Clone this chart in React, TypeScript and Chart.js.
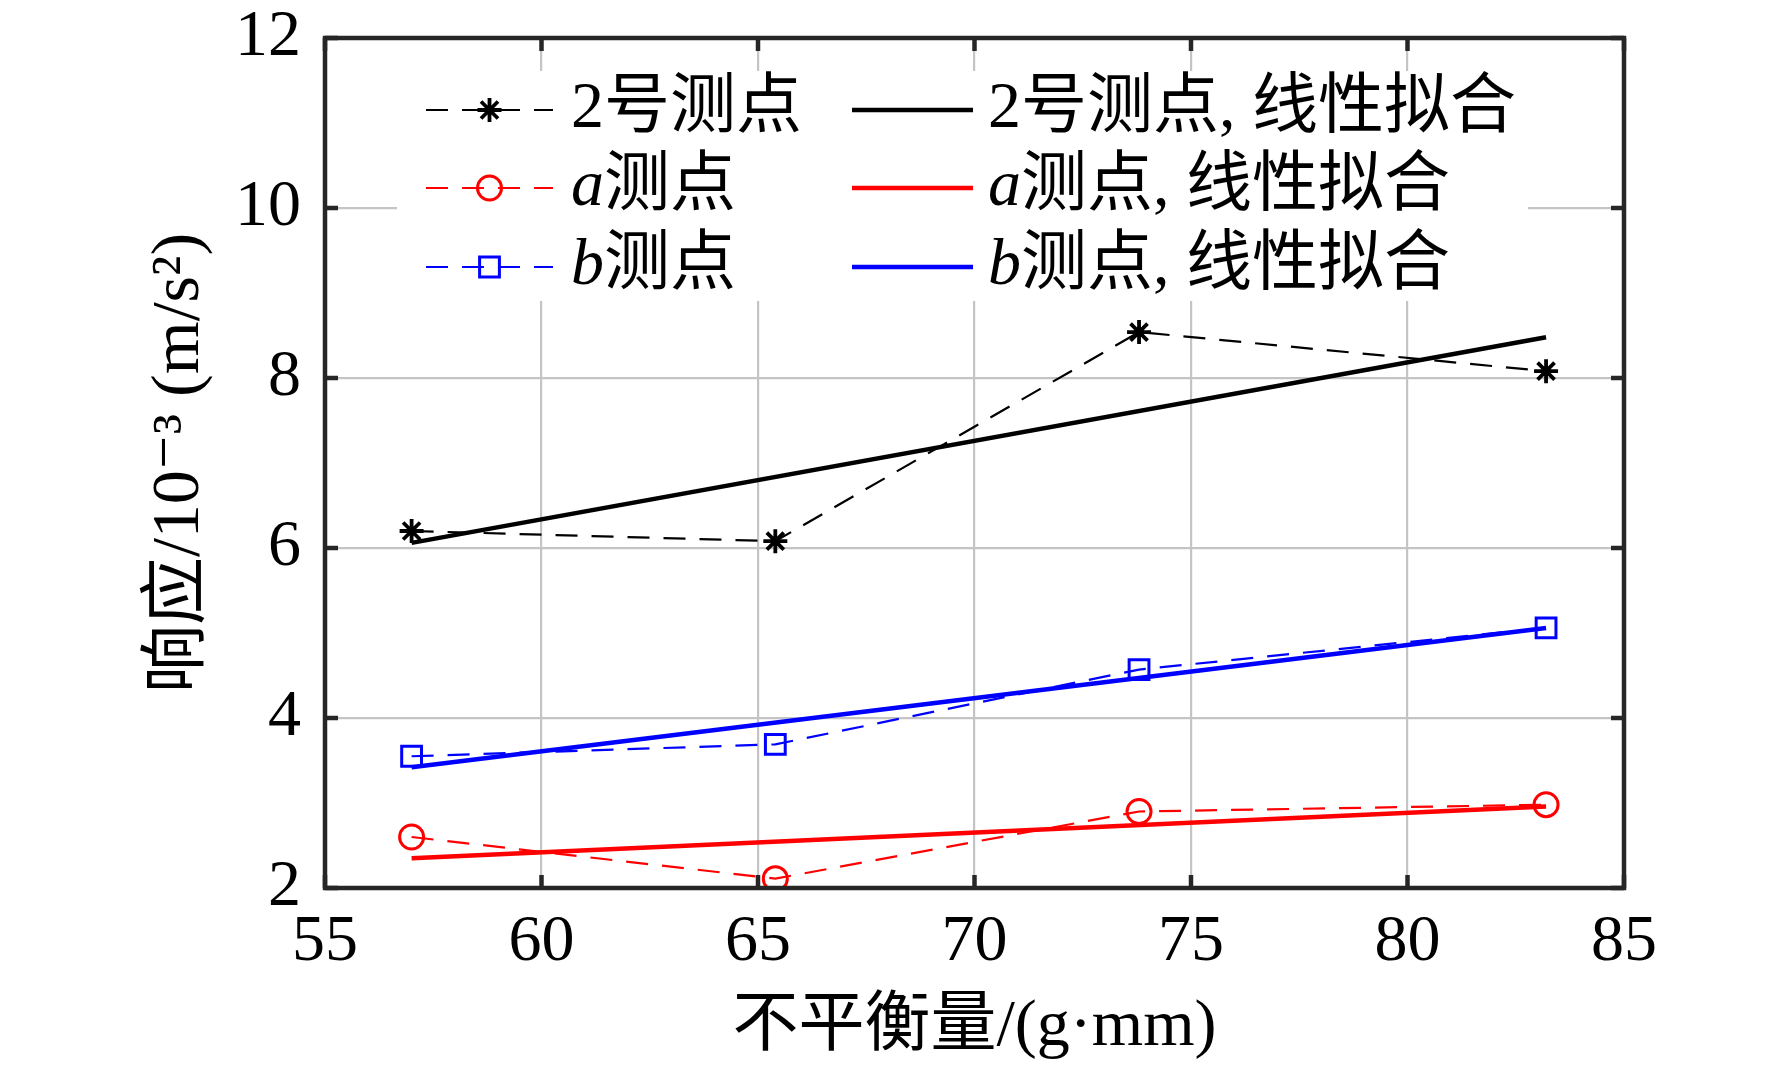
import { useEffect, useRef } from 'react';
import { Chart, registerables } from 'chart.js';
import { drawPoint } from 'chart.js/helpers';

Chart.register(...registerables);

// measured x positions (unbalance, g·mm)
const xPoints = [57, 65.4, 73.8, 83.2];
const fitX = [57, 83.2];

// measured responses (10^-3 m/s^2)
const p2Vals = [6.2, 6.08, 8.54, 8.08];
const aVals = [2.6, 2.11, 2.9, 2.98];
const bVals = [3.55, 3.69, 4.57, 5.06];

// linear-fit end points
const p2Fit = [6.06, 8.48];
const aFit = [2.35, 2.96];
const bFit = [3.42, 5.06];

const seriesNames = ['2号测点', 'a测点', 'b测点'];
const italicLead = [false, true, true];
const fitSuffix = ', 线性拟合';

const xTicks = [55, 60, 65, 70, 75, 80, 85];
const yTicks = [2, 4, 6, 8, 10, 12];

const FONT = "'Liberation Serif', 'Times New Roman', 'Noto Sans CJK SC', 'DejaVu Serif', serif";
const AXIS = '#262626';
const GRID = '#c4c4c4';
const BLACK = '#000000';
const RED = '#ff0000';
const BLUE = '#0000ff';

const zip = (xs: number[], ys: number[]) => xs.map((x, i) => ({ x, y: ys[i] }));

// legend drawn inside the axes, two columns, white box
const legendPlugin = {
  id: 'insideLegend',
  afterDraw(chart: any) {
    const { ctx, chartArea } = chart;
    const L = chartArea.left, T = chartArea.top;
    ctx.save();
    ctx.fillStyle = '#fff';
    ctx.fillRect(L + 72, T + 33, 1131, 230);
    const rows = [72, 150, 229];
    const cols = [{ x0: 101, x1: 228, tx: 246 }, { x0: 527, x1: 648, tx: 663 }];
    chart.data.datasets.forEach((ds: any, i: number) => {
      const col = cols[Math.floor(i / 3)];
      const y = T + rows[i % 3];
      ctx.strokeStyle = ds.borderColor;
      ctx.lineWidth = ds.borderWidth;
      ctx.setLineDash(ds.borderDash || []);
      ctx.beginPath();
      ctx.moveTo(L + col.x0, y);
      ctx.lineTo(L + col.x1, y);
      ctx.stroke();
      ctx.setLineDash([]);
      if (ds.pointRadius > 0) {
        ctx.lineWidth = ds.pointBorderWidth;
        ctx.strokeStyle = ds.pointBorderColor;
        ctx.fillStyle = 'rgba(0,0,0,0)';
        drawPoint(ctx, { pointStyle: ds.pointStyle, radius: ds.pointRadius, borderWidth: ds.pointBorderWidth, rotation: 0 } as any, L + (col.x0 + col.x1) / 2, y);
      }
      const k = i % 3;
      const label: string = ds.label;
      const parts = italicLead[k]
        ? [{ t: label.slice(0, 1), it: true }, { t: label.slice(1), it: false }]
        : [{ t: label, it: false }];
      let x = L + col.tx;
      ctx.fillStyle = '#000';
      ctx.textBaseline = 'middle';
      ctx.textAlign = 'left';
      for (const p of parts) {
        ctx.font = `${p.it ? 'italic ' : ''}66px ${FONT}`;
        ctx.fillText(p.t, x, y);
        x += ctx.measureText(p.t).width;
      }
    });
    ctx.restore();
  },
};

// axes box with inward ticks
const boxPlugin = {
  id: 'axesBox',
  afterDraw(chart: any) {
    const { ctx, chartArea: { left, right, top, bottom }, scales } = chart;
    ctx.save();
    ctx.strokeStyle = AXIS;
    ctx.lineWidth = 4.5;
    const seg = (x0: number, y0: number, x1: number, y1: number) => {
      ctx.beginPath(); ctx.moveTo(x0, y0); ctx.lineTo(x1, y1); ctx.stroke();
    };
    xTicks.forEach(v => {
      const px = scales.x.getPixelForValue(v);
      seg(px, bottom, px, bottom - 13);
      seg(px, top, px, top + 13);
    });
    yTicks.forEach(v => {
      const py = scales.y.getPixelForValue(v);
      seg(left, py, left + 13, py);
      seg(right, py, right - 13, py);
    });
    ctx.strokeRect(left, top, right - left, bottom - top);
    ctx.restore();
  },
};

export default function App() {
  const canvasRef = useRef<HTMLCanvasElement>(null);

  useEffect(() => {
    if (!canvasRef.current) return;
    const dashed = { borderWidth: 2.2, borderDash: [22, 14], pointBackgroundColor: 'rgba(0,0,0,0)', pointBorderWidth: 3 };
    const solid = { borderWidth: 4.5, pointRadius: 0 };
    const tickFont = { family: FONT, size: 66, lineHeight: 1 };

    const chart = new Chart(canvasRef.current, {
      type: 'line',
      data: {
        datasets: [
          { label: seriesNames[0], data: zip(xPoints, p2Vals), borderColor: BLACK, pointBorderColor: BLACK, pointStyle: 'star', pointRadius: 12, ...dashed, pointBorderWidth: 3.8 },
          { label: seriesNames[1], data: zip(xPoints, aVals), borderColor: RED, pointBorderColor: RED, pointStyle: 'circle', pointRadius: 12, ...dashed },
          { label: seriesNames[2], data: zip(xPoints, bVals), borderColor: BLUE, pointBorderColor: BLUE, pointStyle: 'rect', pointRadius: 14, ...dashed },
          { label: seriesNames[0] + fitSuffix, data: zip(fitX, p2Fit), borderColor: BLACK, ...solid },
          { label: seriesNames[1] + fitSuffix, data: zip(fitX, aFit), borderColor: RED, ...solid },
          { label: seriesNames[2] + fitSuffix, data: zip(fitX, bFit), borderColor: BLUE, ...solid },
        ],
      },
      options: {
        animation: false,
        responsive: true,
        maintainAspectRatio: false,
        layout: { padding: { top: 38, right: 148, left: 0, bottom: 0 } },
        elements: { line: { tension: 0 } },
        scales: {
          x: {
            type: 'linear', min: 55, max: 85,
            afterBuildTicks: (s: any) => { s.ticks = xTicks.map(v => ({ value: v })); },
            ticks: { font: tickFont, color: '#000', padding: 22, autoSkip: false, maxRotation: 0 },
            grid: { color: GRID, lineWidth: 2.2, drawTicks: false },
            border: { display: false },
            title: { display: true, text: '不平衡量/(g·mm)', color: '#000', font: { family: FONT, size: 66, lineHeight: 1 }, padding: { top: 0, bottom: 4 } },
            afterFit: (s: any) => { s.height = 177; s.paddingLeft = 0; s.paddingRight = 0; },
          },
          y: {
            type: 'linear', min: 2, max: 12,
            afterBuildTicks: (s: any) => { s.ticks = yTicks.map(v => ({ value: v })); },
            ticks: { font: tickFont, color: '#000', padding: 24 },
            grid: { color: GRID, lineWidth: 2.2, drawTicks: false },
            border: { display: false },
            title: { display: true, text: '响应/10⁻³ (m/s²)', color: '#000', font: { family: FONT, size: 68, lineHeight: 1 }, padding: { top: 146, bottom: 0 } },
            afterFit: (s: any) => { s.width = 325; s.paddingTop = 0; s.paddingBottom = 0; },
          },
        },
        plugins: {
          legend: { display: false },
          tooltip: { enabled: false },
        },
      },
      plugins: [legendPlugin, boxPlugin],
    } as any);

    return () => { chart.destroy(); };
  }, []);

  return (
    <div style={{ position: 'fixed', left: 0, top: 0, width: 1772, height: 1065, background: '#fff' }}>
      <canvas ref={canvasRef} />
    </div>
  );
}
